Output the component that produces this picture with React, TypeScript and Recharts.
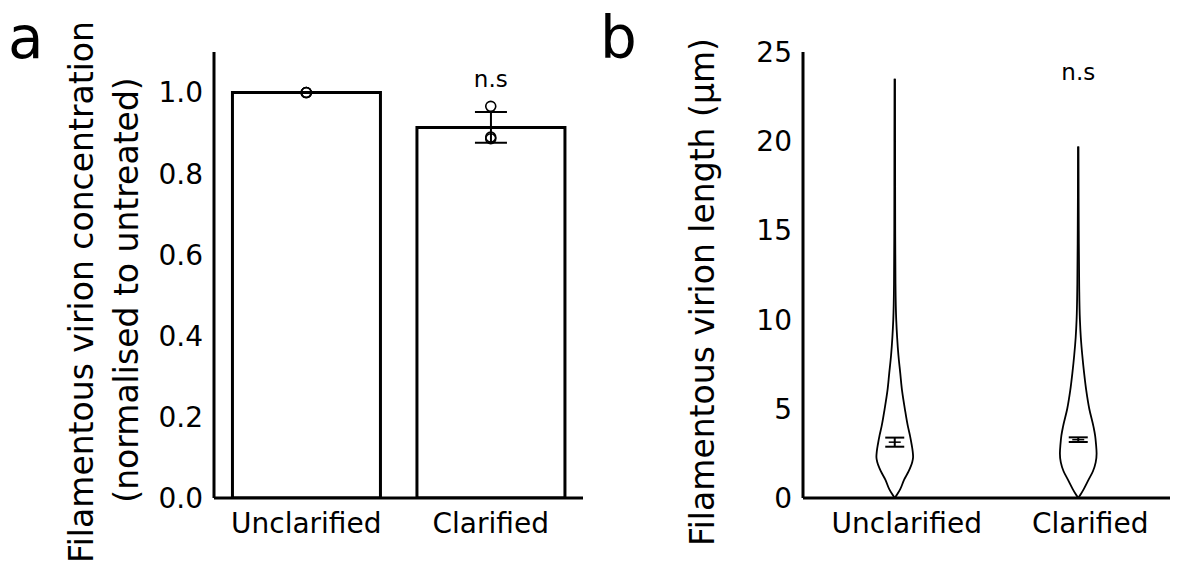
import React from 'react';
import { ComposedChart, Bar, XAxis, YAxis, Scatter, ErrorBar, ReferenceDot, Curve } from 'recharts';

const FONT = '"DejaVu Sans", sans-serif';

// ---------- Panel a data ----------
const categories = ['Unclarified', 'Clarified'];
const concentrationMeans = [1.0, 0.914];
const concentrationErrors = [0, 0.038];
const unclarifiedReplicates = [1.0, 1.0, 1.0];
const clarifiedReplicates = [0.966, 0.886, 0.89];
const concentrationTicks = [0, 0.2, 0.4, 0.6, 0.8, 1.0];

// ---------- Panel b data ----------
const lengthTicks = [0, 5, 10, 15, 20, 25];
const unclarifiedLevels = [0, 0.25, 0.5, 1, 1.5, 2, 2.3, 2.6, 3, 3.5, 4, 5, 6, 7, 8, 9, 10, 12, 15, 20, 23.5];
const unclarifiedDensity = [0, 0.16, 0.3, 0.5, 0.76, 0.95, 1.0, 0.98, 0.92, 0.83, 0.72, 0.55, 0.4, 0.3, 0.2, 0.13, 0.08, 0.04, 0.025, 0.018, 0.012];
const clarifiedLevels = [0, 0.25, 0.5, 1, 1.5, 2, 2.5, 3, 3.5, 4, 5, 6, 7, 8, 9, 10, 12, 15, 19.7];
const clarifiedDensity = [0, 0.16, 0.3, 0.55, 0.8, 0.95, 1.0, 0.97, 0.92, 0.83, 0.6, 0.44, 0.32, 0.22, 0.14, 0.09, 0.05, 0.028, 0.012];
const lengthMeans = [3.13, 3.27];
const lengthSems = [0.255, 0.13];

const VIOLIN_HALF_WIDTH = 0.1; // x-axis units for density 1

const barData = categories.map((c, i) => ({ cat: c, mean: concentrationMeans[i], err: concentrationErrors[i] }));
const pointData = [
  ...unclarifiedReplicates.map((v) => ({ cat: categories[0], v })),
  ...clarifiedReplicates.map((v) => ({ cat: categories[1], v })),
];

function outline(center: number, levels: number[], dens: number[], side: number) {
  const pts = levels.map((y, i) => ({ x: center + side * dens[i] * VIOLIN_HALF_WIDTH, y }));
  return pts.reverse();
}

const violins = [
  { levels: unclarifiedLevels, dens: unclarifiedDensity },
  { levels: clarifiedLevels, dens: clarifiedDensity },
];
const violinSides: { key: string; pts: { x: number; y: number }[] }[] = [];
violins.forEach((v, i) => {
  violinSides.push({ key: `l${i}`, pts: outline(i, v.levels, v.dens, -1) });
  violinSides.push({ key: `r${i}`, pts: outline(i, v.levels, v.dens, 1) });
});
const meanData = lengthMeans.map((m, i) => ({ x: i, y: m, sem: lengthSems[i] }));

const OpenCircle = (props: any) => {
  const { cx, cy } = props;
  if (cx == null || cy == null) return <g />;
  return <circle cx={cx} cy={cy} r={5} fill="none" stroke="#000" strokeWidth={1.6} />;
};

const MeanTick = (props: any) => {
  const { cx, cy } = props;
  if (cx == null || cy == null) return <g />;
  return <line x1={cx - 6} x2={cx + 6} y1={cy} y2={cy} stroke="#000" strokeWidth={1.5} />;
};

const Empty = () => <g />;

const ViolinLine = (props: any) => {
  const pts = props.points;
  if (!pts) return <g />;
  return (
    <g>
      <Curve points={pts} type="monotoneY" stroke="#000000" strokeOpacity={1} strokeWidth={1.8} fill="none" />
    </g>
  );
};

const TickB = (props: any) => {
  const { x, y, payload } = props;
  return (
    <text x={x + 12} y={y} dy="0.71em" textAnchor="middle" fontSize={28} fontFamily={FONT} fill="#000">
      {categories[payload.value]}
    </text>
  );
};

const LabelA = () => (
  <g fontFamily={FONT} fill="#000">
    <text x={8} y={58} fontSize={58}>a</text>
    <text x={81.5} y={292} dy="0.35em" fontSize={33} textAnchor="middle" transform="rotate(-90, 81.5, 292)">
      Filamentous virion concentration
    </text>
    <text x={126.5} y={290} dy="0.35em" fontSize={33} textAnchor="middle" transform="rotate(-90, 126.5, 290)">
      (normalised to untreated)
    </text>
  </g>
);

const LabelB = () => (
  <g fontFamily={FONT} fill="#000">
    <text x={0} y={58} fontSize={58}>b</text>
    <text x={102.5} y={292} dy="0.35em" fontSize={33} textAnchor="middle" transform="rotate(-90, 102.5, 292)">
      Filamentous virion length (μm)
    </text>
  </g>
);

const axisStyle = { stroke: '#000', strokeWidth: 3 };
const tickStyle = { fontSize: 28, fill: '#000', fontFamily: FONT };

export default function App() {
  return (
    <div style={{ position: 'absolute', left: 0, top: 0, width: 1189, height: 572, background: '#fff' }}>
      <div style={{ position: 'absolute', left: 0, top: 0 }}>
        <ComposedChart
          width={600}
          height={572}
          data={barData}
          margin={{ top: 52, right: 17, bottom: 34, left: 154 }}
          barCategoryGap="10%"
        >
          <XAxis
            dataKey="cat"
            type="category"
            allowDuplicatedCategory={false}
            axisLine={axisStyle}
            tickLine={false}
            tick={tickStyle}
            tickMargin={9}
            height={40}
            interval={0}
          />
          <YAxis
            type="number"
            domain={[0, 1.1]}
            ticks={concentrationTicks}
            tickFormatter={(v: number) => v.toFixed(1)}
            width={60}
            axisLine={axisStyle}
            tickLine={false}
            tick={tickStyle}
            tickMargin={5}
            allowDataOverflow
            label={{ content: LabelA }}
          />
          <Bar dataKey="mean" fill="#fff" stroke="#000" strokeWidth={3} isAnimationActive={false}>
            <ErrorBar dataKey="err" width={16} stroke="#000" strokeWidth={2} direction="y" />
          </Bar>
          <Scatter data={pointData} dataKey="v" shape={OpenCircle} isAnimationActive={false} />
          <ReferenceDot
            x="Clarified"
            y={1.035}
            r={0}
            fill="none"
            stroke="none"
            ifOverflow="visible"
            label={{ value: 'n.s', position: 'center', fontSize: 23, fill: '#000', fontFamily: FONT }}
          />
        </ComposedChart>
      </div>
      <div style={{ position: 'absolute', left: 600, top: 0 }}>
        <ComposedChart width={589} height={572} margin={{ top: 52, right: 19, bottom: 34, left: 143 }}>
          <XAxis
            type="number"
            dataKey="x"
            domain={[-0.5, 1.5]}
            ticks={[0, 1]}
            allowDataOverflow
            axisLine={axisStyle}
            tickLine={false}
            tick={<TickB />}
            tickMargin={9}
            height={40}
            interval={0}
          />
          <YAxis
            type="number"
            dataKey="y"
            domain={[0, 25]}
            ticks={lengthTicks}
            width={60}
            axisLine={axisStyle}
            tickLine={false}
            tick={tickStyle}
            tickMargin={5}
            allowDataOverflow
            label={{ content: LabelB }}
          />
          {violinSides.map((s) => (
            <Scatter
              key={`line-${s.key}`}
              data={s.pts}
              shape={Empty}
              line={ViolinLine}
              isAnimationActive={false}
            />
          ))}
          <Scatter data={meanData} shape={MeanTick} isAnimationActive={false}>
            <ErrorBar dataKey="sem" width={9.5} stroke="#000" strokeWidth={2} direction="y" />
          </Scatter>
          <ReferenceDot
            x={1}
            y={23.9}
            r={0}
            fill="none"
            stroke="none"
            ifOverflow="visible"
            label={{ value: 'n.s', position: 'center', fontSize: 23, fill: '#000', fontFamily: FONT }}
          />
        </ComposedChart>
      </div>
    </div>
  );
}
